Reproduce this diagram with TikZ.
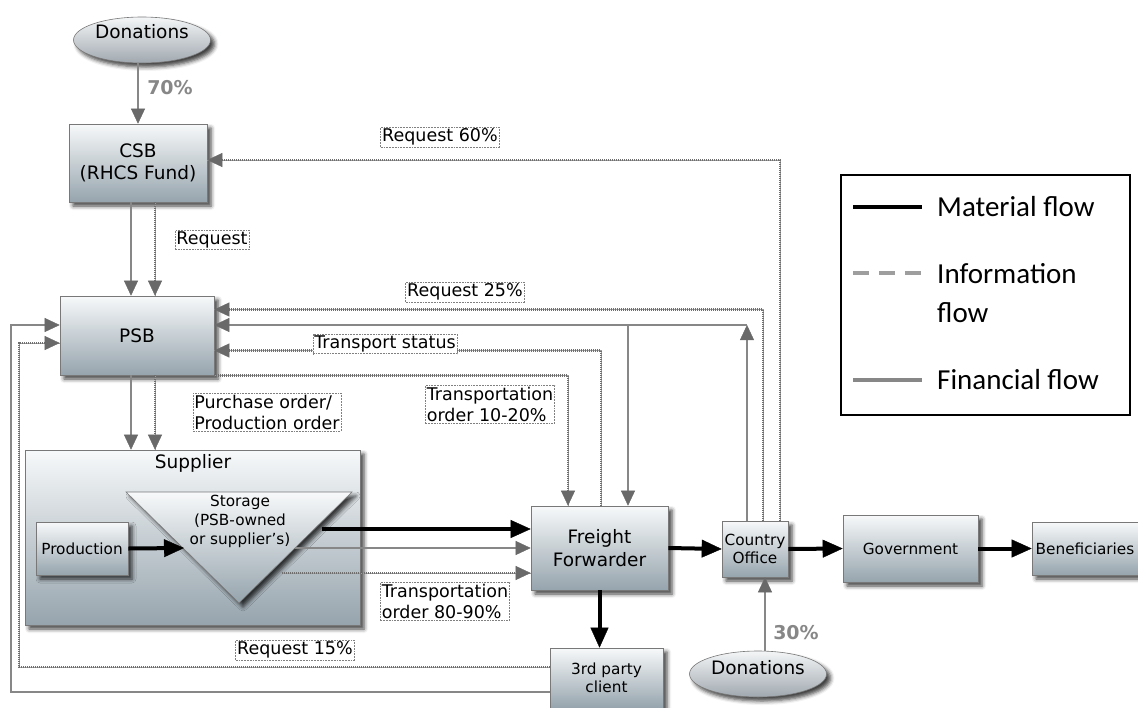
\documentclass[tikz,border=0pt]{standalone}
\usepackage{fontspec}
\setmainfont{DejaVu Sans}
\newfontfamily\legendfont{Carlito}
\usetikzlibrary{arrows.meta,shapes.geometric,shadows.blur}

\definecolor{boxtop}{RGB}{247,249,250}
\definecolor{boxbot}{RGB}{150,164,173}
\definecolor{ovaltop}{RGB}{244,246,247}
\definecolor{ovalbot}{RGB}{160,168,175}
\definecolor{finline}{RGB}{135,135,135}
\definecolor{tipgray}{RGB}{105,105,105}
\definecolor{infoline}{RGB}{110,110,110}
\definecolor{infobase}{RGB}{158,158,158}
\definecolor{edgegray}{RGB}{120,120,120}

\tikzset{
  softshadow/.style={blur shadow={shadow xshift=4pt, shadow yshift=-4pt,
      shadow blur radius=4pt, shadow opacity=75}},
  unit/.style={rectangle, draw=edgegray, line width=0.6pt,
      top color=boxtop, bottom color=boxbot, softshadow,
      inner sep=0pt, align=center, font=\fontsize{18.5}{22.5}\selectfont},
  smallunit/.style={unit, font=\fontsize{15.3}{18}\selectfont},
  donor/.style={ellipse, draw=edgegray, line width=0.6pt,
      top color=ovaltop, bottom color=ovalbot, softshadow, inner sep=0pt,
      minimum width=137pt, minimum height=46pt, text height=12pt,
      font=\fontsize{18.5}{21}\selectfont},
  fin/.style={draw=finline, line width=2.5pt,
      -{Triangle[length=15pt,width=14pt,line width=0.4pt,color=tipgray]}},
  info/.style={draw=infoline, line width=2.8pt, dash pattern=on 1pt off 1pt,
      preaction={draw=infobase, solid, -},
      -{Triangle[length=15pt,width=14pt,line width=0.4pt,color=tipgray]}},
  mat/.style={draw=black, line width=4pt,
      -{Triangle[length=20pt,width=18pt,line width=0.4pt]}},
  tag/.style={draw=gray, line width=0.5pt, dash pattern=on 1.8pt off 1pt,
      fill=white, inner sep=1.5pt, align=left,
      font=\fontsize{17.5}{21}\selectfont},
  pct/.style={font=\bfseries\fontsize{19}{22}\selectfont, text=finline},
  legendtext/.style={anchor=west, inner sep=0pt,
      font=\legendfont\fontsize{29}{34}\selectfont},
}

\begin{document}
\begin{tikzpicture}[x=1pt,y=-1pt]
\useasboundingbox (0,0) rectangle (1138,707);

% ---- units ----
\node[donor, text depth=16pt] (don1) at (142,40) {Donations};
\node[unit, minimum width=138pt, minimum height=78pt] (csb) at (138,163) {CSB\\(RHCS Fund)};
\node[unit, minimum width=154pt, minimum height=79pt] (psb) at (137,335.5) {PSB};
\node[unit, minimum width=335pt, minimum height=175pt] (sup) at (192.5,537.5) {};
\node[font=\fontsize{18.5}{21}\selectfont] (suptitle) at (193,463) {Supplier};
\path[draw=edgegray, line width=0.6pt, top color=boxtop, bottom color=boxbot, softshadow]
  (126,492) -- (352,492) -- (239,603) -- cycle;
\node[align=center, font=\fontsize{15.3}{19}\selectfont] (stor) at (240,521)
  {Storage\\(PSB-owned\\or supplier's)};
\node[smallunit, minimum width=92pt, minimum height=53pt] (prod) at (82,548.5) {Production};
\node[unit, minimum width=137pt, minimum height=84pt] (ff) at (599.5,548) {Freight\\Forwarder};
\node[smallunit, minimum width=66pt, minimum height=56pt] (co) at (755,549) {Country\\Office};
\node[smallunit, minimum width=135pt, minimum height=67pt] (gov) at (910.5,548.5) {Government};
\node[smallunit, minimum width=106pt, minimum height=53pt] (ben) at (1085,548.5) {Beneficiaries};
\node[smallunit, minimum width=113pt, minimum height=60pt] (tpc) at (606.5,678) {3rd party\\client};
\node[donor, text depth=11pt] (don2) at (758,674) {Donations};

% ---- points on the storage triangle and bends ----
\coordinate (sl) at (184,548);
\coordinate (sm) at (322,529);
\coordinate (sf) at (295,548);
\coordinate (si) at (282,573);
\coordinate (fc) at (747,325);
\coordinate (fb) at (628,325);
\coordinate (lf) at (11,325);
\coordinate (li) at (19,343);
\path ([xshift=-7pt]csb.south) coordinate (cf);
\path ([xshift=17pt]csb.south) coordinate (ci);
\path ([xshift=-6pt]psb.south) coordinate (pf);
\path ([xshift=18pt]psb.south) coordinate (pi);
\path ([xshift=7pt]don2.north) coordinate (dn);

% ---- financial flow ----
\draw[fin] (don1.south -| csb.north) -- (csb.north);
\draw[fin] (cf) -- (cf |- psb.north);
\draw[fin] (pf) -- (pf |- sup.north);
\draw[fin] ([xshift=-8pt]co.north) -- (fc);
\draw[fin] (fc) -- (fc -| psb.east);
\draw[fin] (fb) -- (fb |- ff.north);
\draw[fin] (sf) -- (sf -| ff.west);
\draw[fin] (dn) -- (dn |- co.south);
\draw[fin] ([yshift=-14pt]tpc.west) -| (lf) -- (lf -| psb.west);

% ---- information flow ----
\draw[info] ([xshift=25pt]co.north) |- ([yshift=3pt]csb.east);
\draw[info] (ci) -- (ci |- psb.north);
\draw[info] ([xshift=8pt]co.north) |- ([yshift=26pt]psb.east);
\draw[info] ([xshift=1.5pt]ff.north) |- ([yshift=-15pt]psb.east);
\draw[info] (psb.south east) -| ([xshift=-31.5pt]ff.north);
\draw[info] (pi) -- (pi |- sup.north);
\draw[info] (si) -- (si -| ff.west);
\draw[info] ([yshift=11pt]tpc.west) -| (li) -- (li -| psb.west);

% ---- material flow ----
\draw[mat] (prod.east) -- (sl);
\draw[mat] (sm) -- (sm -| ff.west);
\draw[mat] (ff.east) -- (co.west);
\draw[mat] (co.east) -- (gov.west);
\draw[mat] (gov.east) -- (ben.west);
\draw[mat] (ff.south) -- (ff.south |- tpc.north);

% ---- flow labels ----
\node[pct] (p70) at (170,88) {70\%};
\node[pct] (p30) at (796,633) {30\%};
\node[tag] (t60) at (440,137) {Request 60\%};
\node[tag] (treq) at (212,240) {Request};
\node[tag] (t25) at (465,292) {Request 25\%};
\node[tag] (tts) at (385,344) {Transport status};
\node[tag] (tpo) at (267,412) {Purchase order/\\Production order};
\node[tag] (tto1) at (490,404) {Transportation\\order 10-20\%};
\node[tag] (tto2) at (445,601) {Transportation\\order 80-90\%};
\node[tag] (t15) at (295,650) {Request 15\%};

% ---- legend ----
\node[draw=black, line width=1.3pt, minimum width=289pt, minimum height=240pt] (legend) at (985.5,295) {};
\draw[black, line width=4pt] (853,207) -- (922,207);
\node[legendtext] (lmat) at (937,207) {Material flow};
\draw[infobase, line width=4pt, dash pattern=on 16pt off 10pt] (853,273) -- (922,273);
\node[legendtext] (linf) at (937,274) {Information};
\node[legendtext] (linf2) at (937,313) {flow};
\draw[finline, line width=4pt] (853,380) -- (922,380);
\node[legendtext] (lfin) at (937,380) {Financial flow};
\end{tikzpicture}
\end{document}
